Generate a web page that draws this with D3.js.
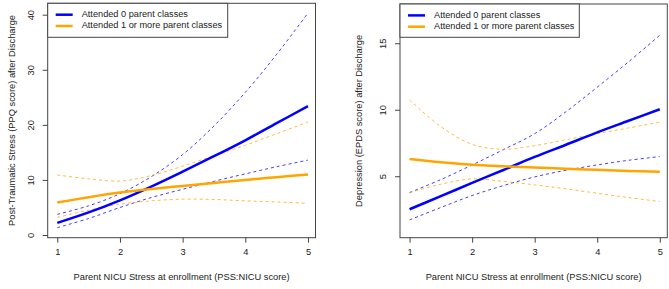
<!DOCTYPE html>
<html><head><meta charset="utf-8">
<script src="https://cdn.jsdelivr.net/npm/d3@7"></script>
<style>body{margin:0;background:#fff}svg{display:block}text{font-family:"Liberation Sans",Arial,sans-serif;fill:#222}</style>
</head><body><svg id="c" width="669" height="289"></svg>
<script>
const xs = [1, 1.5, 2, 2.5, 3, 3.5, 4, 4.5, 5];
const xTicks = [1, 2, 3, 4, 5];
const legendLabels = ["Attended 0 parent classes", "Attended 1 or more parent classes"];
const xTitle = "Parent NICU Stress at enrollment (PSS:NICU score)";

// Panel A: PPQ
const ppqTitle = "Post-Traumatic Stress (PPQ score) after Discharge";
const ppqTicks = [0, 10, 20, 30, 40];
const ppqBlueFit = [2.2, 4.1, 6.3, 8.8, 11.5, 14.3, 17.2, 20.3, 23.4];
const ppqBlueUp  = [3.75, 5.3, 7.5, 10.6, 14.6, 19.8, 25.9, 32.8, 40.3];
const ppqBlueLo  = [1.33, 3.0, 5.0, 6.8, 8.3, 9.75, 11.1, 12.4, 13.6];
const ppqOrFit   = [5.9, 6.85, 7.7, 8.35, 8.9, 9.45, 10.0, 10.5, 11.0];
const ppqOrUp    = [10.9, 10.2, 9.8, 10.8, 12.5, 14.4, 16.3, 18.4, 20.5];
const ppqOrLo    = [3.2, 4.5, 5.6, 6.2, 6.5, 6.45, 6.2, 6.0, 5.75];

// Panel B: EPDS
const epdsTitle = "Depression (EPDS score) after Discharge";
const epdsTicks = [5, 10, 15];
const epdsBlueFit = [2.52, 3.5, 4.5, 5.47, 6.45, 7.37, 8.3, 9.17, 10.04];
const epdsBlueUp  = [3.77, 4.75, 5.85, 7.0, 8.2, 9.85, 11.7, 13.6, 15.6];
const epdsBlueLo  = [1.72, 2.65, 3.55, 4.3, 4.95, 5.45, 5.85, 6.2, 6.48];
const epdsOrFit   = [6.3, 6.05, 5.87, 5.75, 5.65, 5.56, 5.48, 5.4, 5.33];
const epdsOrUp    = [10.74, 8.73, 7.4, 7.03, 7.3, 7.75, 8.2, 8.63, 9.06];
const epdsOrLo    = [3.77, 4.4, 4.8, 4.62, 4.35, 4.05, 3.72, 3.4, 3.1];

const BLUE = "#0000ff", ORANGE = "#ffa500";
const svg = d3.select("#c");
svg.append("rect").attr("width",669).attr("height",289).attr("fill","#fff");

const panels = [
  {box:[47.7,315.5,3.3,237.7], ydom:[-0.49,42.07], yticks:ppqTicks, title:ppqTitle, titleX:13, legRight:227.7,
   series:[[ppqBlueFit,ppqBlueUp,ppqBlueLo,BLUE],[ppqOrFit,ppqOrUp,ppqOrLo,ORANGE]]},
  {box:[400,667.3,4,237.7], ydom:[0.38,17.95], yticks:epdsTicks, title:epdsTitle, titleX:360, legRight:579.3,
   series:[[epdsBlueFit,epdsBlueUp,epdsBlueLo,BLUE],[epdsOrFit,epdsOrUp,epdsOrLo,ORANGE]]}
];

panels.forEach(p => {
  const [l,r,t,b] = p.box;
  const x = d3.scaleLinear().domain([0.847,5.12]).range([l,r]);
  const y = d3.scaleLinear().domain(p.ydom).range([b,t]);
  const g = svg.append("g");
  const line = d3.line().x((d,i)=>x(xs[i])).y(d=>y(d)).curve(d3.curveCatmullRom.alpha(0.5));

  p.series.forEach(([fit,up,lo,col]) => {
    [up,lo].forEach(arr => g.append("path").attr("d",line(arr)).attr("fill","none")
      .attr("stroke",col).attr("stroke-width",1).attr("stroke-dasharray","3,3").attr("opacity",0.75));
  });
  p.series.forEach(([fit,up,lo,col]) => {
    g.append("path").attr("d",line(fit)).attr("fill","none").attr("stroke",col).attr("stroke-width",2.5);
  });

  g.append("rect").attr("x",l).attr("y",t).attr("width",r-l).attr("height",b-t)
    .attr("fill","none").attr("stroke","#444").attr("stroke-width",1);

  const xa = g.append("g").attr("transform",`translate(0,${b})`)
    .call(d3.axisBottom(x).tickValues(xTicks).tickFormat(d3.format("d")).tickSize(5).tickPadding(6));
  xa.select(".domain").remove();
  xa.selectAll("line").attr("stroke","#444");
  xa.selectAll("text").attr("font-size","9.3px").attr("fill","#222");

  const ya = g.append("g").attr("transform",`translate(${l},0)`)
    .call(d3.axisLeft(y).tickValues(p.yticks).tickFormat(d3.format("d")).tickSize(5).tickPadding(0));
  ya.select(".domain").remove();
  ya.selectAll("line").attr("stroke","#444");
  ya.selectAll("text").attr("font-size","9.3px").attr("fill","#222")
    .attr("x",null).attr("dy",null).attr("text-anchor","middle")
    .attr("transform",`translate(${-16.5},0) rotate(-90)`).attr("dominant-baseline","middle");

  svg.append("text").attr("x",(l+r)/2).attr("y",278).attr("text-anchor","middle")
    .attr("dominant-baseline","middle").attr("font-size","9.3px").text(xTitle);
  svg.append("text").attr("transform",`translate(${p.titleX},${(t+b)/2}) rotate(-90)`)
    .attr("text-anchor","middle").attr("dominant-baseline","middle").attr("font-size","9.3px").text(p.title);

  g.append("rect").attr("x",l).attr("y",t).attr("width",p.legRight-l).attr("height",37.3-t)
    .attr("fill","#fff").attr("stroke","#444").attr("stroke-width",1);
  [BLUE,ORANGE].forEach((col,i) => {
    const ly = t + 11.4 + i*11.3;
    g.append("line").attr("x1",l+8).attr("x2",l+25).attr("y1",ly).attr("y2",ly)
      .attr("stroke",col).attr("stroke-width",2.5);
    g.append("text").attr("x",l+34).attr("y",ly).attr("dominant-baseline","middle")
      .attr("font-size","9.2px").text(legendLabels[i]);
  });
});
</script></body></html>
